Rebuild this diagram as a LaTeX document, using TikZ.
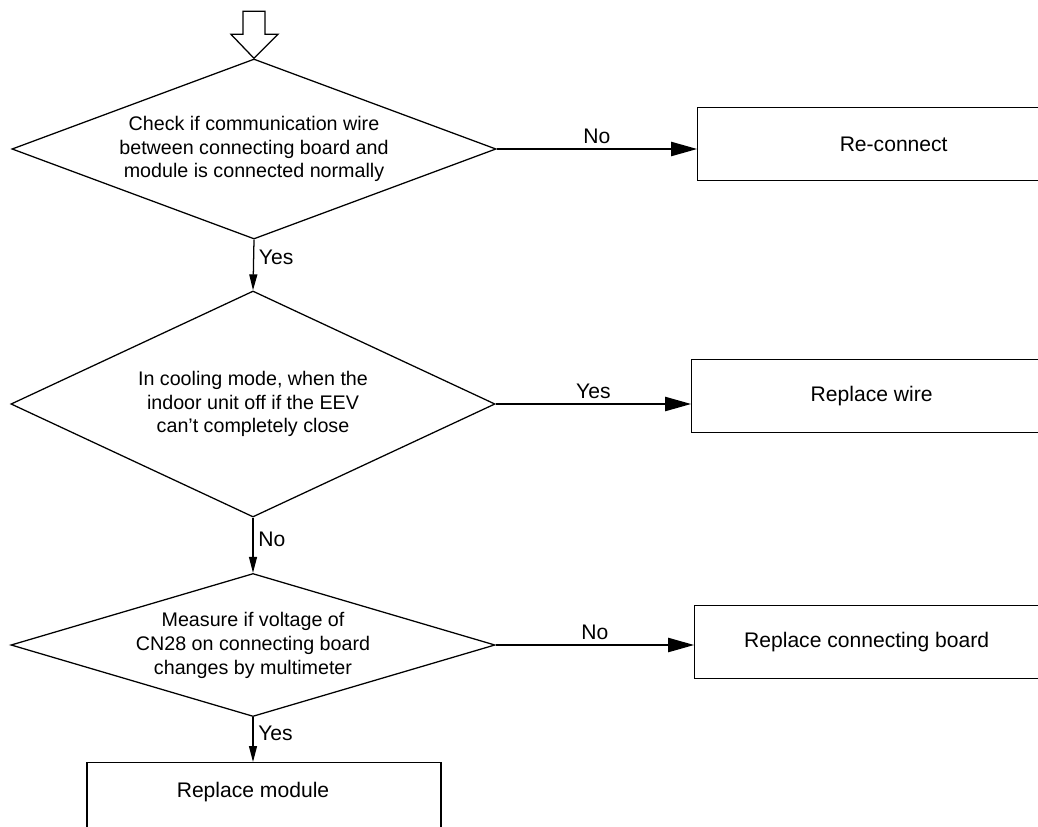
\documentclass[tikz,border=0pt]{standalone}
\usepackage{fontspec}
\setmainfont{Liberation Sans}
\usetikzlibrary{shapes.geometric,arrows.meta}
\begin{document}
\begin{tikzpicture}[x=0.025cm,y=-0.025cm,line width=0.9pt,
	font=\fontsize{15}{18}\selectfont,
	dec/.style={draw,diamond,inner sep=0pt,align=center,minimum width=12.1cm,
		font=\fontsize{14}{17}\selectfont},
	proc/.style={draw,rectangle,anchor=west,minimum height=1.825cm},
	harr/.style={-{Triangle[length=0.65cm,width=0.36cm]}},
	varr/.style={-{Triangle[length=0.4cm,width=0.2cm]}}]
	\useasboundingbox (0,0) rectangle (1038,827);
	\clip (0,0) rectangle (1038,827);
	% decisions
	\node[dec,aspect=2.69,minimum height=4.5cm] (D1) at (254,149) {Check if communication wire\\between connecting board and\\module is connected normally};
	\node[dec,aspect=2.14,minimum height=5.65cm] (D2) at (253,404) {In cooling mode, when the\\indoor unit off if the EEV\\can't completely close};
	\node[dec,aspect=3.38,minimum height=3.575cm] (D3) at (253,645) {Measure if voltage of\\CN28 on connecting board\\changes by multimeter};
	% actions
	\node[proc,minimum width=9.8cm] (R1) at (697,144) {Re-connect};
	\node[proc,minimum width=9cm] (R2) at (691,396) {Replace wire};
	\node[proc,minimum width=8.6cm] (R3) at (694,642) {Replace connecting board};
	\node[draw,rectangle,anchor=north,minimum width=8.85cm,minimum height=1.75cm] (R4) at (264,762) {\raisebox{0pt}[0pt][0pt]{\hspace*{-0.55cm}Replace module}};
	% entry arrow
	\draw[line join=miter] (D1.north) -- ++(-23,-24) -- ++(12,0) -- ++(0,-23) -- ++(22,0) -- ++(0,23) -- ++(13,0) -- cycle;
	% links
	\draw[harr] (D1.east) -- (R1.west |- D1.east) node[midway,above]{No};
	\draw[harr] (D2.east) -- (R2.west |- D2.east) node[midway,above]{Yes};
	\draw[harr] (D3.east) -- (R3.west |- D3.east) node[midway,above]{No};
	\draw[varr] (D1.south) -- (D2.north) node[pos=0.35,right]{Yes};
	\draw[varr] (D2.south) -- (D3.north) node[pos=0.4,right]{No};
	\draw[varr] (D3.south) -- (D3.south |- R4.north) node[pos=0.35,right]{Yes};
\end{tikzpicture}
\end{document}
